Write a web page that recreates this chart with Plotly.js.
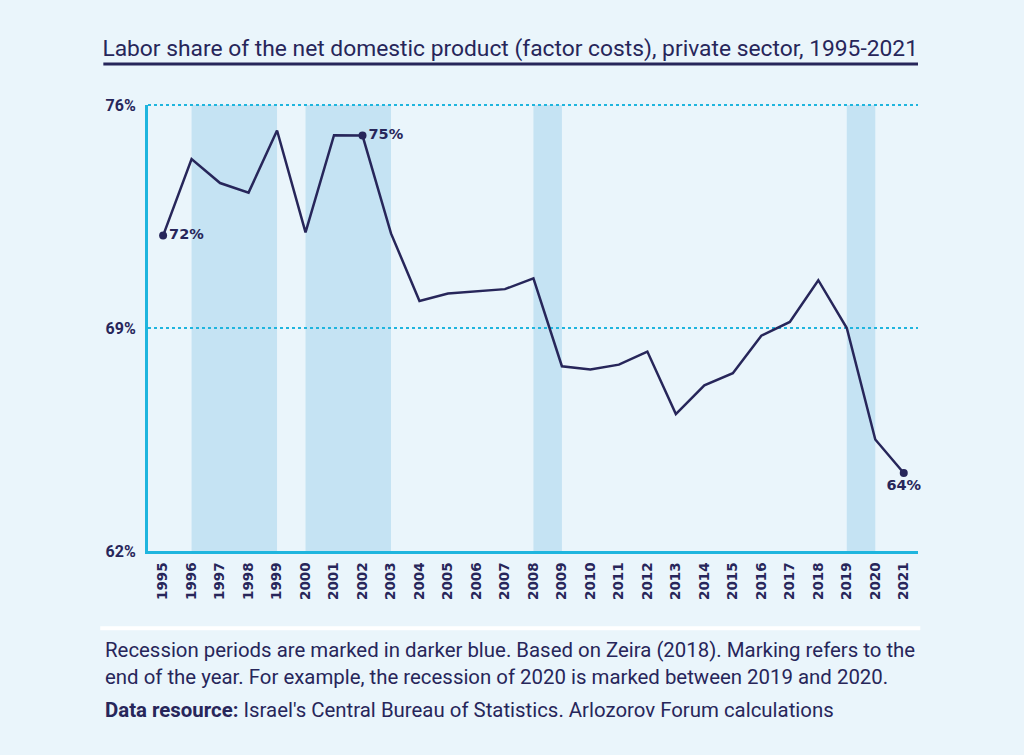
<!DOCTYPE html>
<html>
<head>
<meta charset="utf-8">
<script src="https://cdn.plot.ly/plotly-3.0.1.min.js"></script>
<style>
  html, body { margin: 0; padding: 0; background: #eaf5fb; }
  #chart { width: 1024px; height: 755px; }
</style>
</head>
<body>
<div id="chart"></div>
<script>
// labor share of net domestic product, private sector (%)
const years = [1995, 1996, 1997, 1998, 1999, 2000, 2001, 2002, 2003, 2004, 2005, 2006, 2007,
               2008, 2009, 2010, 2011, 2012, 2013, 2014, 2015, 2016, 2017, 2018, 2019, 2020, 2021];
const laborShare = [71.9, 74.3, 73.55, 73.25, 75.2, 72.0, 75.05, 75.04, 71.97, 69.85, 70.08, 70.14, 70.22,
                    70.56, 67.8, 67.7, 67.85, 68.26, 66.3, 67.2, 67.58, 68.76, 69.19, 70.5, 69.0, 65.5, 64.45];
// recession periods, marked from end of year to end of year
const recessionStart = [1996, 2000, 2008, 2019];
const recessionEnd = [1999, 2003, 2009, 2020];
// points that get a value label
const labelYears = [1995, 2002, 2021];
const yTicks = [62, 69, 76];
const yTickText = ['62%', '69%', '76%'];

const navy = '#27265a';
const cyan = '#1fb5de';
const shade = '#c5e3f3';
const bg = '#eaf5fb';
const textFamily = 'Roboto, "Noto Sans", sans-serif';

const labelX = labelYears;
const labelY = labelYears.map(y => laborShare[years.indexOf(y)]);
const labelText = labelY.map(v => Math.round(v) + '%');

const lineTrace = {
    x: years, y: laborShare,
    type: 'scatter', mode: 'lines',
    line: { color: navy, width: 2.5 },
    hoverinfo: 'x+y'
};

const pointTrace = {
    x: labelX, y: labelY,
    type: 'scatter', mode: 'markers+text',
    marker: { color: navy, size: 8 },
    text: labelText,
    textposition: ['middle right', 'middle right', 'bottom center'],
    textfont: { family: 'DejaVu Sans', size: 14.5, color: navy, weight: 'bold' },
    cliponaxis: false,
    hoverinfo: 'skip'
};

const shapes = recessionStart.map((s, i) => ({
    type: 'rect', xref: 'x', yref: 'paper',
    x0: s, x1: recessionEnd[i], y0: 0, y1: 1,
    fillcolor: shade, line: { width: 0 }, layer: 'below'
}));

// dotted gridline along the top edge (the axis range ends at the top tick,
// and plotly drops the gridline sitting on the edge)
shapes.push({
    type: 'line', xref: 'paper', yref: 'paper',
    x0: 0, x1: 1, y0: 1, y1: 1,
    line: { color: cyan, width: 2, dash: 'dot' }
});
// title underline
shapes.push({
    type: 'line', xref: 'paper', yref: 'paper',
    x0: -0.058, x1: 1.0, y0: 1.092, y1: 1.092,
    line: { color: navy, width: 3 }
});
// white separator above footnote
shapes.push({
    type: 'line', xref: 'paper', yref: 'paper',
    x0: -0.062, x1: 1.003, y0: -0.173, y1: -0.173,
    line: { color: '#ffffff', width: 4 }
});

const noteFont = { family: textFamily, size: 20.4, color: navy };

const layout = {
    width: 1024, height: 755,
    paper_bgcolor: bg, plot_bgcolor: bg,
    margin: { l: 148, r: 106, t: 105, b: 204 },
    showlegend: false,
    title: {
        text: 'Labor share of the net domestic product (factor costs), private sector, 1995-2021',
        xref: 'container', yref: 'container',
        x: 0.1, xanchor: 'left', y: 0.936, yanchor: 'middle',
        font: { family: textFamily, size: 22.8, color: navy }
    },
    xaxis: {
        range: [1994.47, 2021.5],
        tickmode: 'array', tickvals: years, ticktext: years.map(String),
        tickangle: -90,
        tickfont: { family: 'DejaVu Sans', size: 13.5, color: navy, weight: 'bold' },
        ticks: '', ticklabelstandoff: 3,
        showgrid: false, zeroline: false,
        showline: true, linecolor: cyan, linewidth: 3,
        fixedrange: true
    },
    yaxis: {
        range: [yTicks[0], yTicks[yTicks.length - 1]],
        tickmode: 'array', tickvals: yTicks, ticktext: yTickText,
        tickfont: { family: textFamily, size: 16, color: navy, weight: 'bold' },
        ticks: '', ticklabelstandoff: 6,
        showgrid: true, gridcolor: cyan, gridwidth: 2, griddash: 'dot',
        zeroline: false,
        showline: true, linecolor: cyan, linewidth: 3,
        fixedrange: true
    },
    shapes: shapes,
    annotations: [
        {
            xref: 'paper', yref: 'paper', x: -0.058, y: -0.19,
            xanchor: 'left', yanchor: 'top', align: 'left', showarrow: false,
            text: 'Recession periods are marked in darker blue. Based on Zeira (2018). Marking refers to the<br>end of the year. For example, the recession of 2020 is marked between 2019 and 2020.',
            font: noteFont
        },
        {
            xref: 'paper', yref: 'paper', x: -0.058, y: -0.325,
            xanchor: 'left', yanchor: 'top', align: 'left', showarrow: false,
            text: '<b>Data resource:</b> Israel\'s Central Bureau of Statistics. Arlozorov Forum calculations',
            font: noteFont
        }
    ]
};

Plotly.newPlot('chart', [lineTrace, pointTrace], layout, { displayModeBar: false, staticPlot: true });
</script>
</body>
</html>
